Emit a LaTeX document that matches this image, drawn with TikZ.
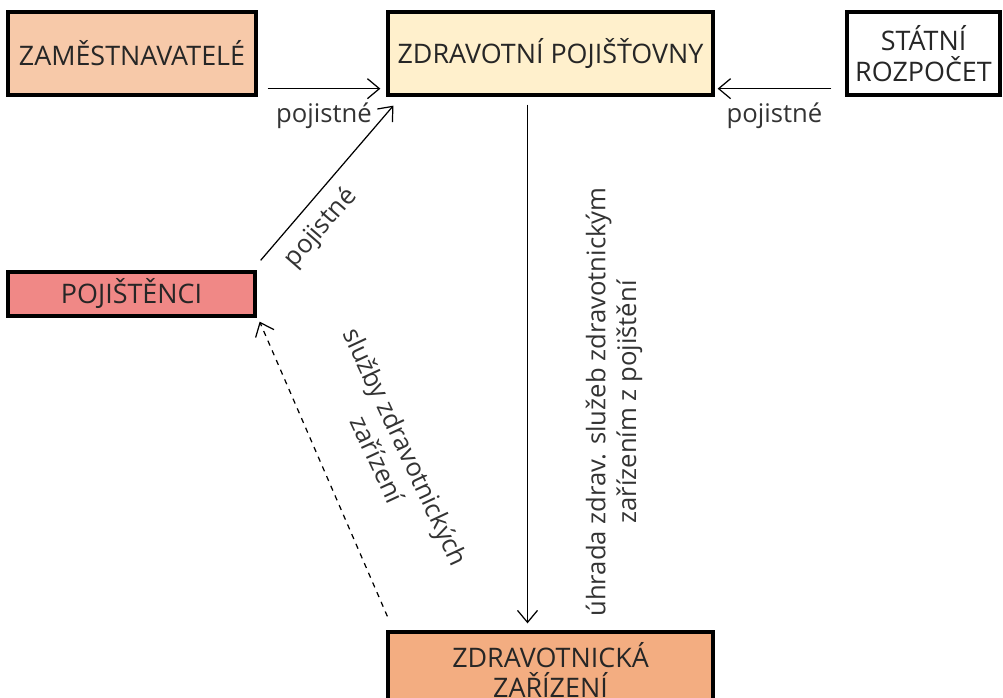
\documentclass[tikz,border=0pt]{standalone}
\usepackage{fontspec}
\setmainfont{Open Sans}
\usetikzlibrary{arrows.meta, positioning}

\definecolor{zamfill}{HTML}{F7C9A9}
\definecolor{zpfill}{HTML}{FFF0CC}
\definecolor{pojfill}{HTML}{F08886}
\definecolor{zzfill}{HTML}{F3AD81}

\begin{document}
\begin{tikzpicture}[
        x=0.02cm, y=-0.02cm,
        >={Straight Barb[length=2.4mm, width=4mm]},
        box/.style={draw, line width=1.9pt, inner sep=2pt, align=center,
            font=\fontsize{15.3}{17.5}\selectfont, text=black!85},
        e/.style={->, line width=0.7pt},
        w/.style={font=\fontsize{14.6}{17.5}\selectfont, text=black!80, align=center}
    ]
        \useasboundingbox (0,0) rectangle (1003,697);

        \node[box, fill=zamfill, minimum width=4.96cm, minimum height=1.66cm] (zam) at (132,53.5) {ZAMĚSTNAVATELÉ};
        \node[box, fill=zpfill,  minimum width=6.5cm,  minimum height=1.66cm] (zp)  at (550.5,53.5) {ZDRAVOTNÍ POJIŠŤOVNY};
        \node[box, fill=white,   minimum width=3.06cm, minimum height=1.66cm] (sr)  at (923.5,53.5) {STÁTNÍ\\ROZPOČET};
        \node[box, fill=pojfill, minimum width=4.94cm, minimum height=0.88cm] (poj) at (131.5,294) {POJIŠTĚNCI};
        \node[box, fill=zzfill,  minimum width=6.5cm,  minimum height=1.52cm] (zz)  at (550.5,670) {ZDRAVOTNICKÁ\\ZAŘÍZENÍ};

        \draw[e] ([shift={(10,-8)}]zam.south east) -- ([shift={(-6,-8)}]zp.south west)
            node[midway, below=1.5mm, w]{pojistné};
        \draw[e] ([shift={(-14,-8)}]sr.south west) -- ([shift={(3,-8)}]zp.south east)
            node[midway, below=1.5mm, w]{pojistné};
        \draw[e] ([shift={(4,-10)}]poj.north east) -- ([shift={(7,9)}]zp.south west);
        \draw[e] ([shift={(-23,8)}]zp.south) -- ([shift={(-23,-7)}]zz.north);
        \draw[e, dashed] ([shift={(1,-14)}]zz.north west) -- ([shift={(3,4)}]poj.south east);

        % labels of the slanted and vertical connectors
        \node[w, rotate=49] (lpoj) at (321,228) {pojistné};
        \node[w, rotate=90] (luhr) at (614,402) {úhrada zdrav. služeb zdravotnickým\\zařízením z pojištění};
        \node[w, rotate=-65] (lsluz) at (392,453) {služby zdravotnických\\zařízení};
    \end{tikzpicture}
\end{document}
